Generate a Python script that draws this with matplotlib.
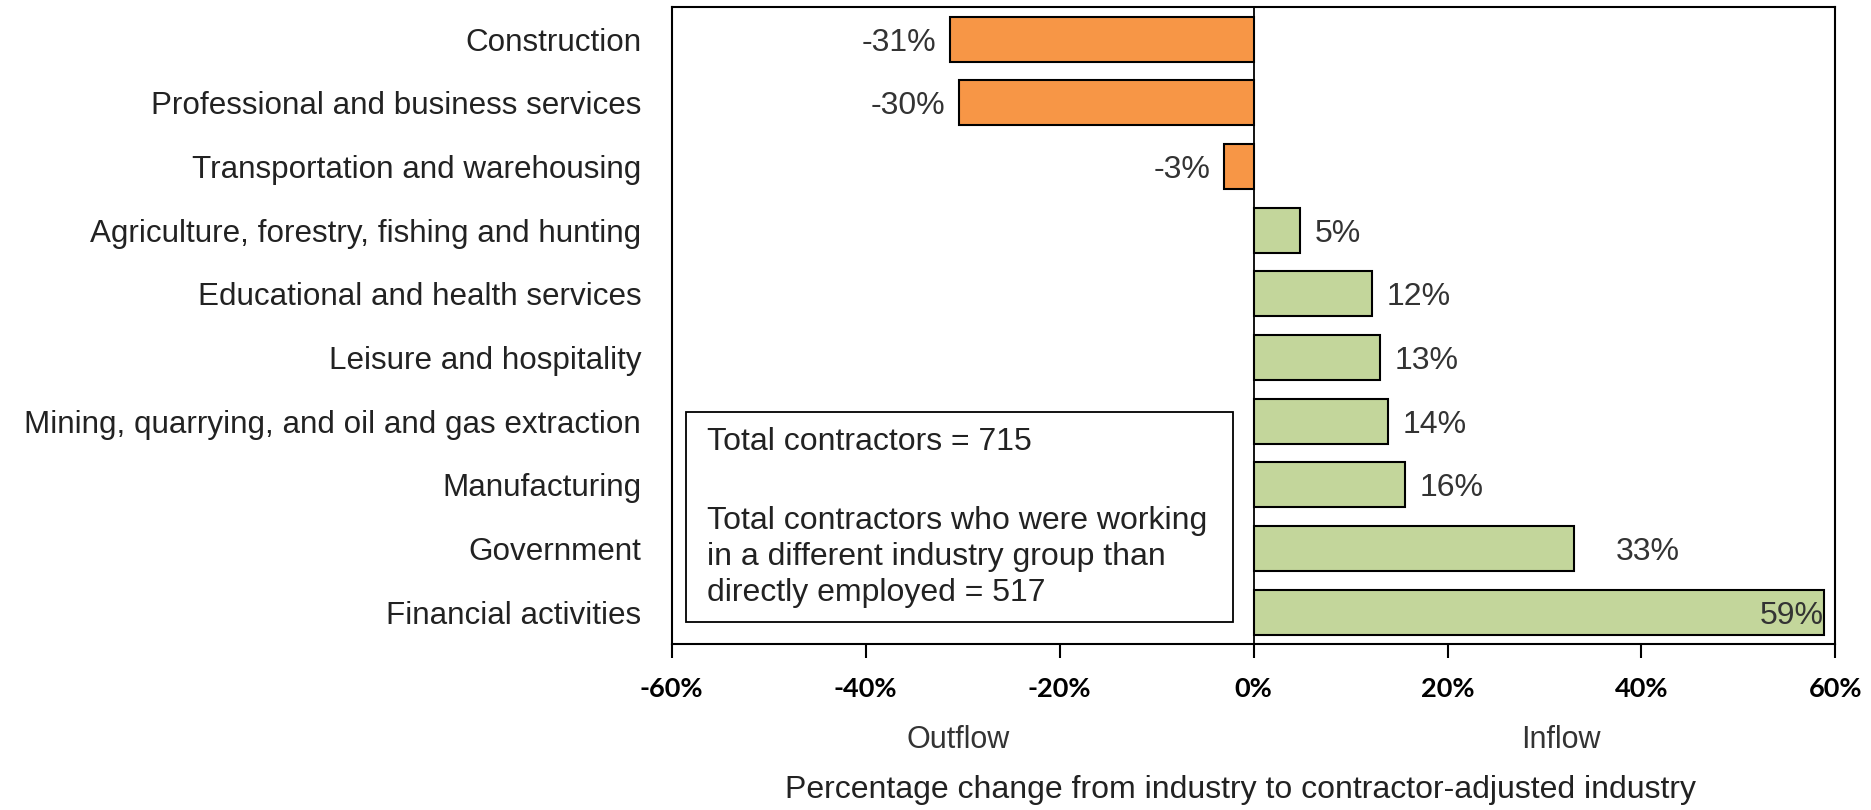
import matplotlib.pyplot as plt
from matplotlib.patches import Rectangle
from matplotlib.ticker import FuncFormatter

industries = [
    "Construction",
    "Professional and business services",
    "Transportation and warehousing",
    "Agriculture, forestry, fishing and hunting",
    "Educational and health services",
    "Leisure and hospitality",
    "Mining, quarrying, and oil and gas extraction",
    "Manufacturing",
    "Government",
    "Financial activities",
]
change = [-31.3, -30.4, -3.0, 4.8, 12.2, 13.0, 13.9, 15.6, 33.0, 58.8]
labels = ["-31%", "-30%", "-3%", "5%", "12%", "13%", "14%", "16%", "33%", "59%"]
xticks = [-60, -40, -20, 0, 20, 40, 60]

plt.rcParams['font.family'] = ['Liberation Sans Narrow', 'Liberation Sans', 'DejaVu Sans']

fig = plt.figure(figsize=(18.71, 8.10), dpi=100)
ax = fig.add_axes([0.359, 0.205, 0.622, 0.786])

y = list(range(len(industries)))
colors = ['#F79646' if v < 0 else '#C3D69B' for v in change]
ax.barh(y, change, height=0.71, color=colors, edgecolor='black', linewidth=1.5, zorder=2)
ax.axvline(0, color='black', lw=1.3, zorder=3)

##value labels
for i, (v, lab) in enumerate(zip(change, labels)):
    if v < 0:
        ax.text(v - 1.4, i, lab, ha='right', va='center_baseline', fontsize=23, color='#333333')
    elif i == len(change) - 1:
        ax.text(v, i, lab, ha='right', va='center_baseline', fontsize=23, color='#333333')
    else:
        ax.text(v + 1.5 + (2.9 if v > 30 else 0), i, lab, ha='left', va='center_baseline',
                fontsize=23, color='#333333')

ax.set_xlim(-60, 60)
ax.set_ylim(len(industries) - 0.5, -0.5)
ax.set_yticks(y)
ax.set_yticklabels(industries, fontsize=22.6, color='#222222')
ax.tick_params(axis='y', length=0, pad=22)
ax.set_xticks(xticks)
ax.xaxis.set_major_formatter(FuncFormatter(lambda v, p: f"{v:.0f}%"))
ax.tick_params(axis='x', length=10, width=1.5, direction='out', pad=14, labelsize=19.5)
for t in ax.get_xticklabels():
    t.set_fontfamily(['Lato', 'DejaVu Sans'])
    t.set_fontweight('bold')
for s in ax.spines.values():
    s.set_linewidth(1.5)

##annotation box
ax.add_patch(Rectangle((-58.5, 5.85), 56.4, 3.31, fill=False, edgecolor='black', lw=1.3, zorder=4))
ax.text(-56.4, 6.33, "Total contractors = 715", ha='left', va='center', fontsize=23, color='#222222')
ax.text(-56.4, 8.13, "Total contractors who were working\nin a different industry group than\ndirectly employed = 517",
        ha='left', va='center', fontsize=23, color='#222222', linespacing=1.27)

##axis captions
fig.text(0.512, 0.086, "Outflow", ha='center', va='center', fontsize=22, color='#333333')
fig.text(0.834, 0.086, "Inflow", ha='center', va='center', fontsize=22, color='#333333')
fig.text(0.663, 0.025, "Percentage change from industry to contractor-adjusted industry",
         ha='center', va='center', fontsize=23, color='#222222')

fig.savefig("out.png", dpi=100)
